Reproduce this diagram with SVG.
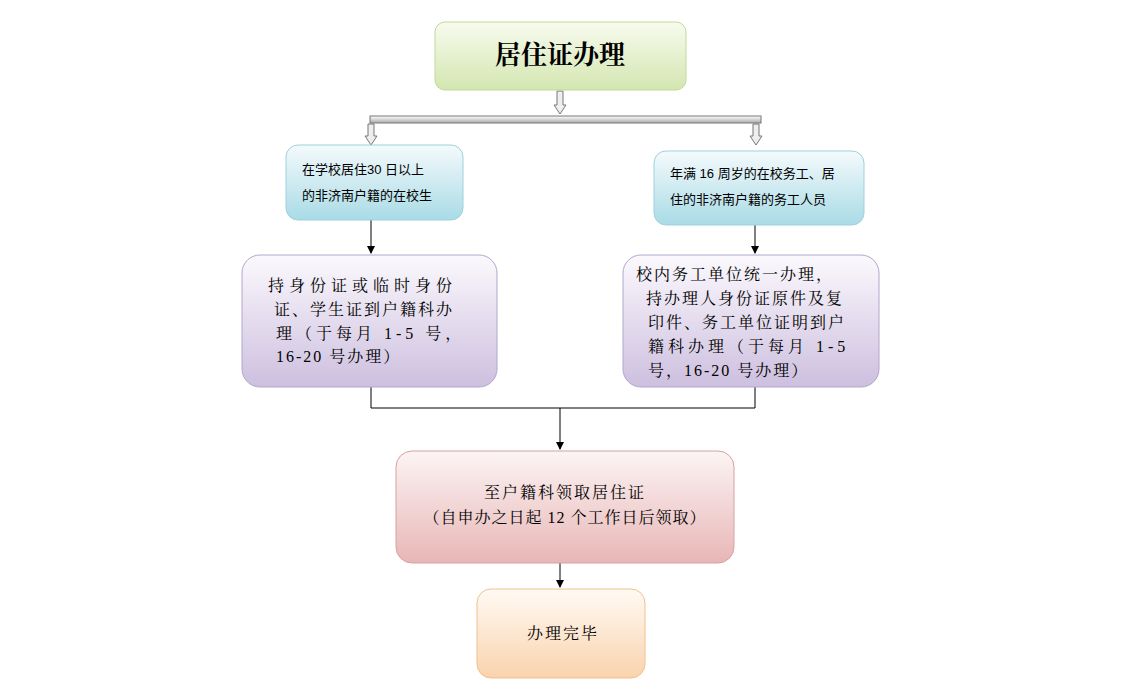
<svg xmlns="http://www.w3.org/2000/svg" width="1122" height="700" viewBox="0 0 1122 700">
<style>
.s{font-family:"Liberation Sans","Noto Sans CJK SC",sans-serif;font-size:13px;fill:#000}
.r{font-family:"Liberation Serif","Noto Serif CJK SC","Noto Sans CJK SC",serif;font-size:16px;fill:#000;letter-spacing:2px}
.ln{stroke:#000;stroke-width:1;fill:none}
.ho{fill:#eee;stroke:#777;stroke-width:1}
</style>
<defs>
<linearGradient id="g" x1="0" y1="0" x2="0" y2="1"><stop offset="0" stop-color="#f8fbef"/><stop offset="1" stop-color="#d3e6b0"/></linearGradient>
<linearGradient id="b" x1="0" y1="0" x2="0" y2="1"><stop offset="0" stop-color="#f4fafc"/><stop offset="1" stop-color="#a9dbe6"/></linearGradient>
<linearGradient id="p" x1="0" y1="0" x2="0" y2="1"><stop offset="0" stop-color="#fbf9fd"/><stop offset="1" stop-color="#cdbfdf"/></linearGradient>
<linearGradient id="k" x1="0" y1="0" x2="0" y2="1"><stop offset="0" stop-color="#fcf4f4"/><stop offset="1" stop-color="#e8b6b6"/></linearGradient>
<linearGradient id="o" x1="0" y1="0" x2="0" y2="1"><stop offset="0" stop-color="#fffaf4"/><stop offset="1" stop-color="#fad3ad"/></linearGradient>
<linearGradient id="bar" x1="0" y1="0" x2="0" y2="1"><stop offset="0" stop-color="#fff"/><stop offset="1" stop-color="#aaa"/></linearGradient>
<marker id="a" markerWidth="8" markerHeight="8" refX="7" refY="4" orient="auto" markerUnits="userSpaceOnUse"><path d="M0,0L8,4L0,8z" fill="#000"/></marker>
</defs>
<g id="connectors">
<path class="ho" d="M557,91h6v14h3l-6,9l-6,-9h3z"/>
<rect x="370" y="116" width="391" height="7" fill="url(#bar)" stroke="#777"/>
<path class="ho" d="M368,124h6v12h3l-6,9l-6,-9h3z"/>
<path class="ho" d="M753,124h6v12h3l-6,9l-6,-9h3z"/>
<line class="ln" x1="371" y1="220" x2="371" y2="253" marker-end="url(#a)"/>
<line class="ln" x1="755" y1="225" x2="755" y2="253" marker-end="url(#a)"/>
<path class="ln" d="M371,387V408H755V387"/>
<line class="ln" x1="560" y1="408" x2="560" y2="449" marker-end="url(#a)"/>
<line class="ln" x1="560" y1="563" x2="560" y2="587" marker-end="url(#a)"/>
</g>
<g id="n1"><rect x="435" y="22" width="251" height="68" rx="10" fill="url(#g)" stroke="#c2d99a"/>
<text x="560" y="64" text-anchor="middle" style="font-family:'Liberation Serif','Noto Serif CJK SC','Noto Sans CJK SC',serif;font-size:26px;font-weight:bold">居住证办理</text></g>
<g id="n2"><rect x="286" y="145" width="177" height="75" rx="12" fill="url(#b)" stroke="#9fd0dd"/>
<text class="s" x="302" y="174">在学校居住30 日以上</text><text class="s" x="302" y="200">的非济南户籍的在校生</text></g>
<g id="n3"><rect x="654" y="151" width="210" height="74" rx="12" fill="url(#b)" stroke="#9fd0dd"/>
<text class="s" x="670" y="178">年满 16 周岁的在校务工、居</text><text class="s" x="670" y="204">住的非济南户籍的务工人员</text></g>
<g id="n4"><rect x="242" y="255" width="255" height="132" rx="18" fill="url(#p)" stroke="#b3a6cc"/>
<text class="r" x="268" y="291" style="letter-spacing:5px">持身份证或临时身份</text>
<text class="r" x="274" y="315">证、学生证到户籍科办</text>
<text class="r" x="276" y="339" style="letter-spacing:4px">理（于每月 1-5 号，</text>
<text class="r" x="276" y="362">16-20 号办理）</text></g>
<g id="n5"><rect x="623" y="255" width="256" height="132" rx="18" fill="url(#p)" stroke="#b3a6cc"/>
<text class="r" x="636" y="280">校内务工单位统一办理，</text>
<text class="r" x="646" y="304">持办理人身份证原件及复</text>
<text class="r" x="648" y="328">印件、务工单位证明到户</text>
<text class="r" x="648" y="352" style="letter-spacing:4px">籍科办理（于每月 1-5</text>
<text class="r" x="648" y="376">号，16-20 号办理）</text></g>
<g id="n6"><rect x="396" y="451" width="338" height="112" rx="16" fill="url(#k)" stroke="#d9a0a0"/>
<text class="r" x="565" y="498" text-anchor="middle">至户籍科领取居住证</text>
<text class="r" x="565" y="523" text-anchor="middle" style="letter-spacing:1px">（自申办之日起 12 个工作日后领取）</text></g>
<g id="n7"><rect x="477" y="589" width="168" height="89" rx="14" fill="url(#o)" stroke="#f1c08e"/>
<text class="r" x="563" y="639" text-anchor="middle">办理完毕</text></g>
</svg>
